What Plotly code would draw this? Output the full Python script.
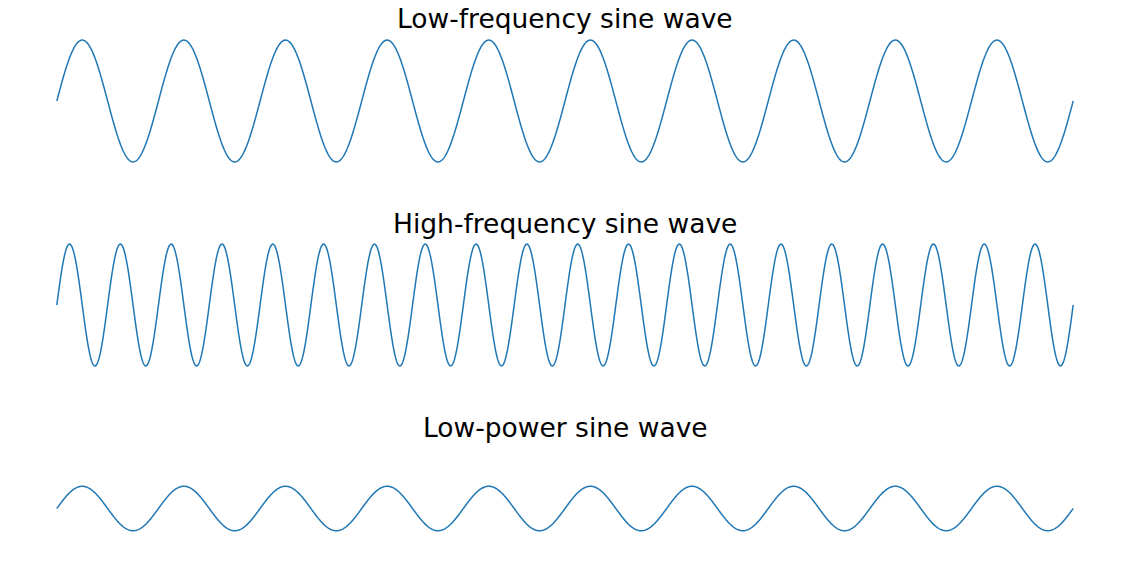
import numpy as np
import plotly.graph_objects as go

W, H = 1130, 584

titles = ["Low-frequency sine wave", "High-frequency sine wave", "Low-power sine wave"]
cycles = [10, 20, 10]          # full periods across the x span
amplitudes = [1.0, 1.0, 0.365]  # relative amplitude (shared y scale)
n_samples = 2000

# panel centres (pixels from top) and half-height of axes box
centres = [101, 305, 508.5]
half_h = 67
title_y = [19, 223, 427]

fig = go.Figure()
x = np.linspace(0, 1, n_samples)
for i, (c, a) in enumerate(zip(cycles, amplitudes)):
    y = a * np.sin(2 * np.pi * c * x)
    xa = "x" if i == 0 else f"x{i+1}"
    ya = "y" if i == 0 else f"y{i+1}"
    fig.add_trace(go.Scatter(x=x, y=y, mode="lines", xaxis=xa, yaxis=ya,
                             line=dict(color="#1f77b4", width=1.5, simplify=False),
                             hoverinfo="skip", showlegend=False))
    top = 1 - (centres[i] - half_h) / H
    bot = 1 - (centres[i] + half_h) / H
    axx = dict(domain=[6 / W, 1124 / W], range=[-0.05, 1.05], visible=False, anchor=ya)
    axy = dict(domain=[bot, top], range=[-1.1, 1.1], visible=False, anchor=xa)
    fig.layout["xaxis" if i == 0 else f"xaxis{i+1}"] = axx
    fig.layout["yaxis" if i == 0 else f"yaxis{i+1}"] = axy
    fig.add_annotation(text=titles[i], xref="paper", yref="paper",
                       x=565 / W, y=1 - title_y[i] / H, xanchor="center", yanchor="middle",
                       showarrow=False, font=dict(family="DejaVu Sans", size=26.5, color="black"))

fig.update_layout(width=W, height=H, margin=dict(l=0, r=0, t=0, b=0),
                  paper_bgcolor="white", plot_bgcolor="white")
fig.write_html("out.html")
